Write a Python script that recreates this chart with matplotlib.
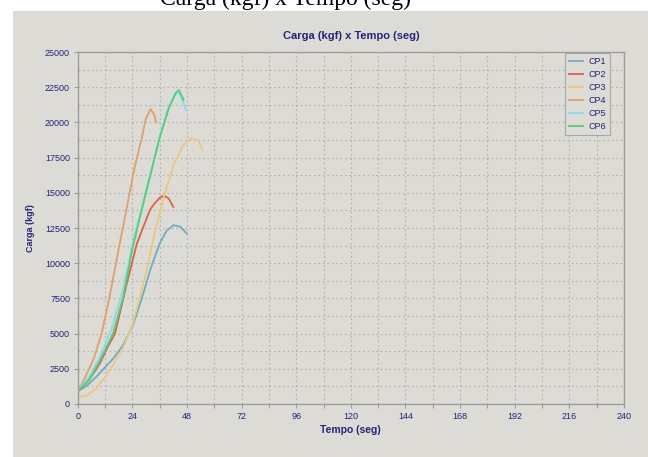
import matplotlib.pyplot as plt
from matplotlib.patches import Rectangle
from matplotlib.ticker import MultipleLocator

# load (kgf) against time (s) for each specimen
cp1_t = [0, 4, 8, 12, 16, 20, 24, 28, 32, 36, 39, 42, 45, 48]
cp1_load = [900, 1300, 1900, 2600, 3300, 4200, 5500, 7400, 9600, 11400, 12300, 12700, 12600, 12100]

cp2_t = [0, 5, 9.8, 13, 16.4, 21.5, 26, 29.6, 31.8, 33.5, 36, 38, 40, 42]
cp2_load = [900, 1700, 2900, 4000, 5000, 8500, 11400, 12900, 13800, 14200, 14650, 14800, 14600, 14000]

cp3_t = [0, 4, 8, 12, 16, 20, 24, 28, 31, 34, 38, 42, 46, 50, 53, 55]
cp3_load = [450, 600, 1100, 1900, 2900, 4000, 5600, 8000, 10000, 12300, 14800, 16900, 18300, 18900, 18700, 18000]

cp4_t = [0, 3, 7, 10.5, 14, 18, 22, 25, 28, 30, 32, 33.5, 34.5]
cp4_load = [900, 1800, 3200, 5000, 7600, 11000, 14300, 16800, 18800, 20300, 20950, 20600, 20000]

cp5_t = [0, 5, 10, 15, 20, 24, 28, 32, 36, 40, 43, 44.5, 46, 47.5]
cp5_load = [1000, 1900, 3400, 5400, 8200, 11300, 13900, 16400, 19000, 21100, 22000, 22100, 21600, 20900]

cp6_t = [0, 5, 10, 15.5, 20, 24, 28, 32, 36, 40, 43, 44.5, 46.5]
cp6_load = [900, 1700, 3150, 5000, 7600, 11000, 13700, 16300, 18900, 21000, 22100, 22300, 21600]

labels = ["CP1", "CP2", "CP3", "CP4", "CP5", "CP6"]
colors = ["#6aaec6", "#e0604c", "#ecc878", "#e0a066", "#86daf2", "#4fd36e"]

NAVY = "#24247a"
PANEL = "#dddbd5"

fig = plt.figure(figsize=(6.48, 4.57), dpi=100)
fig.patch.set_facecolor("white")

# caption line of the surrounding page, mostly cut off by the top edge
fig.text(160 / 648, 1 - 5 / 457, "Carga (kgf) x Tempo (seg)",
         family="Liberation Serif", fontsize=17, color="black",
         ha="left", va="baseline")
fig.patches.append(Rectangle((13 / 648, 0), 1 - 13 / 648, 1 - 11 / 457,
                             transform=fig.transFigure, facecolor=PANEL,
                             edgecolor="none", zorder=-10))

ax = fig.add_axes([0.1199, 0.116, 0.843, 0.770])
ax.set_facecolor(PANEL)

series = [(cp1_t, cp1_load), (cp2_t, cp2_load), (cp3_t, cp3_load),
          (cp4_t, cp4_load), (cp5_t, cp5_load), (cp6_t, cp6_load)]
for (t, load), label, color in zip(series, labels, colors):
    ax.plot(t, load, color=color, linewidth=1.3, label=label)

ax.set_xlim(0, 240)
ax.set_ylim(0, 25000)
ax.xaxis.set_major_locator(MultipleLocator(24))
ax.xaxis.set_minor_locator(MultipleLocator(12))
ax.yaxis.set_major_locator(MultipleLocator(2500))
ax.yaxis.set_minor_locator(MultipleLocator(1250))

ax.grid(which="both", color="#b2b0ac", linestyle=(0, (1.5, 2.5)), linewidth=0.8)
ax.set_axisbelow(True)
for side in ax.spines.values():
    side.set_color("#9e9d99")
    side.set_linewidth(1.0)

ax.tick_params(which="both", direction="out", length=3, width=0.8,
               color="#9e9d99", labelcolor=NAVY, labelsize=6.5, pad=2.5)
ax.tick_params(axis="y", which="minor", length=0)
for lbl in ax.get_xticklabels() + ax.get_yticklabels():
    lbl.set_family("Liberation Sans")

ax.text(0.5, 1.045, "Carga (kgf) x Tempo (seg)", transform=ax.transAxes,
        ha="center", va="center", fontsize=8, fontweight="bold",
        color=NAVY, family="Liberation Sans")
ax.set_xlabel("Tempo (seg)", fontsize=7.5, fontweight="bold", color=NAVY,
              family="Liberation Sans", va="center")
ax.xaxis.set_label_coords(0.5, -0.074)
ax.set_ylabel("Carga (kgf)", fontsize=6.5, fontweight="bold", color=NAVY,
              family="Liberation Sans", va="center")
ax.yaxis.set_label_coords(-0.087, 0.5)

leg = ax.legend(loc="upper right", bbox_to_anchor=(0.974, 0.997),
                fontsize=6.5, frameon=True, fancybox=False, framealpha=1,
                handlelength=1.6, handletextpad=0.6, labelspacing=0.45,
                borderpad=0.4, borderaxespad=0)
leg.get_frame().set_facecolor(PANEL)
leg.get_frame().set_edgecolor("#a8a7a3")
leg.get_frame().set_linewidth(0.8)
for txt in leg.get_texts():
    txt.set_color(NAVY)
    txt.set_family("Liberation Sans")

fig.savefig("out.png", dpi=100)
